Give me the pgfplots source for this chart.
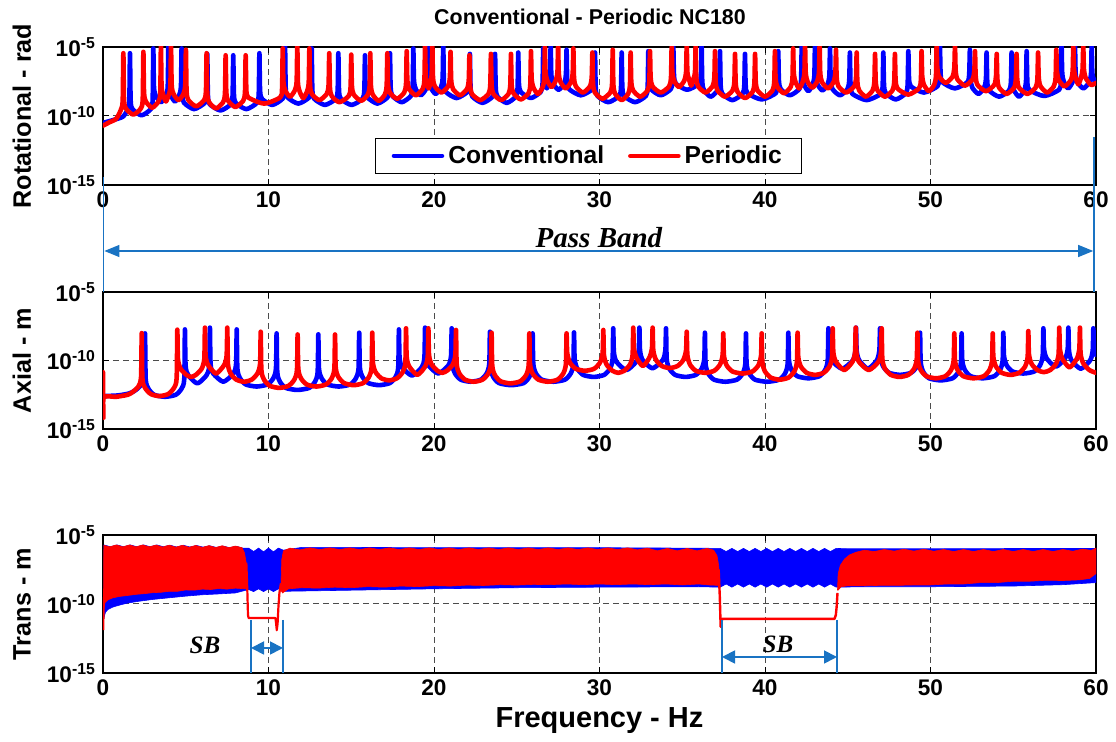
\documentclass[border=0pt]{standalone}
\usepackage{pgfplots}
\pgfplotsset{compat=1.18}
\usepackage{fontspec}
\setmainfont{Liberation Sans}
\newfontfamily\timesf{Liberation Serif}
\usetikzlibrary{arrows.meta}
\definecolor{annot}{RGB}{25,115,195}
\definecolor{cblue}{RGB}{0,0,255}
\definecolor{cred}{RGB}{255,0,0}
\pgfplotsset{
  base/.style={
    scale only axis, width=496.5pt, height=69pt,
    xmin=0, xmax=60, ymin=-15, ymax=-5,
    xtick={0,10,...,60}, ytick={-15,-10,-5},
    yticklabels={10\textsuperscript{-15},10\textsuperscript{-10},10\textsuperscript{-5}},
    grid=major,
    major grid style={dash pattern=on 3pt off 2pt, black!70, line width=0.5pt},
    tick align=inside, major tick length=3pt,
    axis line style={line width=0.6pt},
    tick style={black, line width=0.5pt},
    ticklabel style={font=\fontsize{11.3}{13}\selectfont\bfseries},
    /pgf/number format/assume math mode=true,
    every axis y label/.style={at={(axis description cs:-0.0816,0.5)}, rotate=90, anchor=center, font=\fontsize{12.6}{14}\selectfont\bfseries},
    every axis x label/.style={at={(axis description cs:0.5,0)}, yshift=-24pt, anchor=center, font=\fontsize{14.5}{16}\selectfont\bfseries},
  },
  cv/.style={cblue, line width=2.3pt, line join=round, line cap=round, smooth, tension=0.4},
  pd/.style={cred, line width=2.3pt, line join=round, line cap=round, smooth, tension=0.4},
}
\begin{document}
\begin{tikzpicture}
\path[use as bounding box] (0pt,0pt) rectangle (558pt,-371pt);
% ---------------- Rotational ----------------
\begin{axis}[base, at={(51.5pt,-92.5pt)}, anchor=south west,
  ylabel={Rotational - rad},
  legend style={at={(axis description cs:0.274,0.341)}, anchor=north west, draw=black, line width=0.6pt, fill=white,
    font=\fontsize{12.3}{14}\selectfont\bfseries, legend columns=2, inner xsep=8pt, inner ysep=1.5pt,
    /tikz/every even column/.append style={column sep=10pt}},
  legend image code/.code={\draw[#1, sharp plot] (0pt,0pt) -- (24pt,0pt);}]
\addplot[cv] coordinates {
(0,-10.5) (0.6,-10.3) (1.2,-10.05) (1.48,-9.55) (1.59,-8.9) (1.63,-5.45) (1.67,-8.85) (1.78,-9.5) (2.33,-9.95)
(2.89,-9.5) (3.00,-8.85) (3.04,-5.1) (3.08,-7.9) (3.19,-8.55) (3.50,-9.0)
(3.80,-8.55) (3.91,-7.9) (3.95,-4.9) (3.99,-7.85) (4.10,-8.5) (4.35,-8.95)
(4.60,-8.5) (4.71,-7.85) (4.75,-5.1) (4.79,-8.4) (4.90,-9.05) (5.50,-9.5)
(6.15,-9.05) (6.26,-8.4) (6.30,-5.5) (6.34,-8.5) (6.45,-9.15) (7.10,-9.6)
(7.72,-9.15) (7.83,-8.5) (7.87,-5.6) (7.91,-8.4) (8.02,-9.05) (8.66,-9.5)
(9.30,-9.05) (9.41,-8.4) (9.45,-5.45) (9.49,-8.1) (9.60,-8.75) (10.22,-9.2)
(10.85,-8.75) (10.96,-8.1) (11.00,-4.9) (11.04,-8.0) (11.15,-8.65) (11.80,-9.1)
(12.46,-8.65) (12.57,-8.0) (12.61,-5.1) (12.65,-8.1) (12.76,-8.75) (13.41,-9.2)
(14.07,-8.75) (14.18,-8.1) (14.22,-5.45) (14.26,-8.1) (14.37,-8.75) (15.02,-9.2)
(15.68,-8.75) (15.79,-8.1) (15.83,-5.6) (15.87,-8.0) (15.98,-8.65) (16.58,-9.1)
(17.19,-8.65) (17.30,-8.0) (17.34,-5.45) (17.38,-7.9) (17.49,-8.55) (18.05,-9.0)
(18.60,-8.55) (18.71,-7.9) (18.75,-5.1) (18.79,-7.4) (18.90,-8.05) (19.20,-8.5)
(19.51,-8.05) (19.62,-7.4) (19.66,-4.9) (19.70,-7.3) (19.81,-7.95) (20.10,-8.4)
(20.41,-7.95) (20.52,-7.3) (20.56,-4.9) (20.60,-7.6) (20.71,-8.25) (21.36,-8.7)
(22.02,-8.25) (22.13,-7.6) (22.17,-5.5) (22.21,-7.95) (22.32,-8.6) (22.93,-9.05)
(23.54,-8.6) (23.65,-7.95) (23.69,-5.5) (23.73,-7.95) (23.84,-8.6) (24.39,-9.05)
(24.94,-8.6) (25.05,-7.95) (25.09,-5.4) (25.13,-7.6) (25.24,-8.25) (25.85,-8.7)
(26.45,-8.25) (26.56,-7.6) (26.60,-5.1) (26.64,-6.9) (26.72,-7.5) (26.82,-8.0)
(26.93,-7.5) (27.01,-6.9) (27.05,-4.9) (27.09,-7.0) (27.20,-7.65) (27.53,-8.1)
(27.86,-7.65) (27.97,-7.0) (28.01,-5.2) (28.05,-7.4) (28.16,-8.05) (28.87,-8.5)
(29.58,-8.05) (29.69,-7.4) (29.73,-5.4) (29.77,-7.9) (29.88,-8.55) (30.53,-9.0)
(31.19,-8.55) (31.30,-7.9) (31.34,-5.4) (31.38,-7.9) (31.49,-8.55) (32.15,-9.0)
(32.80,-8.55) (32.91,-7.9) (32.95,-5.3) (32.99,-7.4) (33.10,-8.05) (33.70,-8.5)
(34.31,-8.05) (34.42,-7.4) (34.46,-5.0) (34.50,-7.0) (34.61,-7.65) (35.30,-8.1)
(36.02,-7.65) (36.13,-7.0) (36.17,-4.9) (36.21,-7.5) (36.32,-8.15) (36.72,-8.6)
(37.13,-8.15) (37.24,-7.5) (37.28,-5.3) (37.32,-7.75) (37.43,-8.4) (38.03,-8.85)
(38.64,-8.4) (38.75,-7.75) (38.79,-5.5) (38.83,-7.7) (38.94,-8.35) (39.80,-8.8)
(40.65,-8.35) (40.76,-7.7) (40.80,-5.3) (40.84,-7.4) (40.95,-8.05) (41.50,-8.5)
(42.07,-8.05) (42.18,-7.4) (42.22,-4.9) (42.26,-7.1) (42.37,-7.75) (42.62,-8.2)
(42.87,-7.75) (42.98,-7.1) (43.02,-4.9) (43.06,-7.05) (43.17,-7.7) (43.47,-8.15)
(43.78,-7.7) (43.89,-7.05) (43.93,-5.1) (43.97,-7.4) (44.08,-8.05) (44.53,-8.5)
(44.98,-8.05) (45.09,-7.4) (45.13,-5.4) (45.17,-7.75) (45.28,-8.4) (46.14,-8.85)
(47.00,-8.4) (47.11,-7.75) (47.15,-5.4) (47.19,-7.7) (47.30,-8.35) (47.90,-8.8)
(48.51,-8.35) (48.62,-7.7) (48.66,-5.3) (48.70,-7.2) (48.81,-7.85) (49.60,-8.3)
(50.42,-7.85) (50.53,-7.2) (50.57,-4.9) (50.61,-6.9) (50.72,-7.55) (51.47,-8.0)
(52.23,-7.55) (52.34,-6.9) (52.38,-5.2) (52.42,-7.3) (52.53,-7.95) (52.90,-8.4)
(53.24,-7.95) (53.35,-7.3) (53.39,-5.4) (53.43,-7.5) (53.54,-8.15) (54.15,-8.6)
(54.75,-8.15) (54.86,-7.5) (54.90,-5.4) (54.94,-7.5) (55.05,-8.15) (55.35,-8.6)
(55.66,-8.15) (55.77,-7.5) (55.81,-5.3) (55.85,-7.45) (55.96,-8.1) (56.87,-8.55)
(57.77,-8.1) (57.88,-7.45) (57.92,-4.9) (57.96,-6.9) (58.07,-7.55) (58.32,-8.0)
(58.58,-7.55) (58.69,-6.9) (58.73,-4.9) (58.77,-6.9) (58.88,-7.55) (59.24,-8.0)
(59.59,-7.55) (59.70,-6.9) (59.74,-4.9) (59.78,-6.9) (59.89,-7.4) (60,-7.6)
};
\addlegendentry{Conventional}
\addplot[pd] coordinates {
(0,-10.7) (0.4,-10.45) (0.8,-10.2) (1.08,-9.55) (1.19,-8.9) (1.23,-5.45) (1.27,-8.8) (1.38,-9.45) (1.83,-9.9)
(2.29,-9.45) (2.40,-8.8) (2.44,-5.35) (2.48,-8.3) (2.59,-8.95) (2.97,-9.4)
(3.35,-8.95) (3.46,-8.3) (3.50,-4.9) (3.54,-7.85) (3.65,-8.5) (3.80,-8.95)
(3.96,-8.5) (4.07,-7.85) (4.11,-4.9) (4.15,-7.75) (4.26,-8.4) (4.56,-8.85)
(4.86,-8.4) (4.97,-7.75) (5.01,-5.2) (5.05,-8.2) (5.16,-8.85) (5.63,-9.3)
(6.11,-8.85) (6.22,-8.2) (6.26,-5.45) (6.30,-8.35) (6.41,-9.0) (6.83,-9.45)
(7.26,-9.0) (7.37,-8.35) (7.41,-5.6) (7.45,-8.25) (7.56,-8.9) (8.00,-9.35)
(8.47,-8.9) (8.58,-8.25) (8.62,-5.6) (8.66,-8.0) (8.77,-8.65) (9.74,-9.1)
(10.71,-8.65) (10.82,-8.0) (10.86,-5.1) (10.90,-7.5) (11.01,-8.15) (11.30,-8.6)
(11.59,-8.15) (11.70,-7.5) (11.74,-4.9) (11.78,-7.6) (11.89,-8.25) (12.10,-8.7)
(12.32,-8.25) (12.43,-7.6) (12.47,-5.1) (12.51,-7.75) (12.62,-8.4) (13.07,-8.85)
(13.52,-8.4) (13.63,-7.75) (13.67,-5.45) (13.71,-7.9) (13.82,-8.55) (14.28,-9.0)
(14.85,-8.55) (14.96,-7.9) (15.00,-5.55) (15.04,-7.8) (15.15,-8.45) (15.60,-8.9)
(16.00,-8.45) (16.11,-7.8) (16.15,-5.45) (16.19,-7.8) (16.30,-8.45) (16.66,-8.9)
(17.03,-8.45) (17.14,-7.8) (17.18,-5.45) (17.22,-7.65) (17.33,-8.3) (17.77,-8.75)
(18.20,-8.3) (18.31,-7.65) (18.35,-5.3) (18.39,-7.4) (18.50,-8.05) (18.90,-8.5)
(19.31,-8.05) (19.42,-7.4) (19.46,-4.9) (19.50,-7.1) (19.58,-7.6) (19.68,-8.0)
(19.78,-7.6) (19.86,-7.0) (19.90,-4.9) (19.94,-7.2) (20.05,-7.85) (20.45,-8.3)
(20.85,-7.85) (20.96,-7.2) (21.00,-5.35) (21.04,-7.4) (21.15,-8.05) (21.57,-8.5)
(21.99,-8.05) (22.10,-7.4) (22.14,-5.6) (22.18,-7.75) (22.29,-8.4) (22.79,-8.85)
(23.29,-8.4) (23.40,-7.75) (23.44,-5.5) (23.48,-7.75) (23.59,-8.4) (24.05,-8.85)
(24.50,-8.4) (24.61,-7.75) (24.65,-5.5) (24.69,-7.7) (24.80,-8.35) (25.25,-8.8)
(25.71,-8.35) (25.82,-7.7) (25.86,-5.3) (25.90,-7.3) (26.01,-7.95) (26.28,-8.4)
(26.55,-7.95) (26.66,-7.3) (26.70,-5.0) (26.74,-6.8) (26.85,-7.45) (27.10,-7.9)
(27.35,-7.45) (27.46,-6.8) (27.50,-4.9) (27.54,-6.9) (27.65,-7.55) (27.96,-8.0)
(28.27,-7.55) (28.38,-6.9) (28.42,-5.1) (28.46,-7.2) (28.57,-7.85) (29.00,-8.3)
(29.42,-7.85) (29.53,-7.2) (29.57,-5.4) (29.61,-7.65) (29.72,-8.3) (30.18,-8.75)
(30.65,-8.3) (30.76,-7.65) (30.80,-5.2) (30.84,-7.75) (30.95,-8.4) (31.34,-8.85)
(31.73,-8.4) (31.84,-7.75) (31.88,-5.4) (31.92,-7.5) (32.03,-8.15) (32.46,-8.6)
(32.90,-8.15) (33.01,-7.5) (33.05,-5.3) (33.09,-7.2) (33.20,-7.85) (33.70,-8.3)
(34.21,-7.85) (34.32,-7.2) (34.36,-5.0) (34.40,-6.8) (34.51,-7.45) (34.80,-7.9)
(35.12,-7.45) (35.23,-6.8) (35.27,-4.9) (35.31,-6.8) (35.40,-7.3) (35.54,-7.8)
(35.68,-7.3) (35.77,-6.8) (35.81,-4.9) (35.85,-7.2) (35.96,-7.85) (36.40,-8.3)
(36.83,-7.85) (36.94,-7.2) (36.98,-5.3) (37.02,-7.5) (37.13,-8.15) (37.58,-8.6)
(38.04,-8.15) (38.15,-7.5) (38.19,-5.5) (38.23,-7.6) (38.34,-8.25) (38.80,-8.7)
(39.25,-8.25) (39.36,-7.6) (39.40,-5.5) (39.44,-7.5) (39.55,-8.15) (40.00,-8.6)
(40.45,-8.15) (40.56,-7.5) (40.60,-5.3) (40.64,-7.25) (40.75,-7.9) (41.15,-8.35)
(41.55,-7.9) (41.66,-7.25) (41.70,-5.1) (41.74,-6.9) (41.85,-7.55) (42.06,-8.0)
(42.27,-7.55) (42.38,-6.9) (42.42,-4.9) (42.46,-6.85) (42.57,-7.5) (42.86,-7.95)
(43.15,-7.5) (43.26,-6.85) (43.30,-4.9) (43.34,-6.9) (43.45,-7.55) (43.80,-8.0)
(44.14,-7.55) (44.25,-6.9) (44.29,-5.2) (44.33,-7.2) (44.44,-7.85) (44.90,-8.3)
(45.39,-7.85) (45.50,-7.2) (45.54,-5.4) (45.58,-7.5) (45.69,-8.15) (46.10,-8.6)
(46.50,-8.15) (46.61,-7.5) (46.65,-5.5) (46.69,-7.5) (46.80,-8.15) (47.25,-8.6)
(47.70,-8.15) (47.81,-7.5) (47.85,-5.5) (47.89,-7.35) (48.00,-8.0) (48.65,-8.45)
(49.31,-8.0) (49.42,-7.35) (49.46,-5.3) (49.50,-7.1) (49.61,-7.75) (49.90,-8.2)
(50.22,-7.75) (50.33,-7.1) (50.37,-4.9) (50.41,-6.5) (50.52,-7.15) (50.92,-7.6)
(51.33,-7.15) (51.44,-6.5) (51.48,-4.9) (51.52,-6.7) (51.63,-7.35) (52.08,-7.8)
(52.54,-7.35) (52.65,-6.7) (52.69,-5.3) (52.73,-7.1) (52.84,-7.75) (53.35,-8.2)
(53.85,-7.75) (53.96,-7.1) (54.00,-5.5) (54.04,-7.3) (54.15,-7.95) (54.60,-8.4)
(55.05,-7.95) (55.16,-7.3) (55.20,-5.5) (55.24,-7.3) (55.35,-7.95) (55.85,-8.4)
(56.35,-7.95) (56.46,-7.3) (56.50,-5.4) (56.54,-7.2) (56.65,-7.85) (57.05,-8.3)
(57.45,-7.85) (57.56,-7.2) (57.60,-5.2) (57.64,-6.75) (57.75,-7.4) (58.10,-7.85)
(58.48,-7.4) (58.59,-6.75) (58.63,-4.9) (58.67,-6.6) (58.76,-7.2) (58.93,-7.7)
(59.10,-7.2) (59.19,-6.6) (59.23,-4.9) (59.27,-6.6) (59.38,-7.25) (59.70,-7.75) (60,-7.6)
};
\addlegendentry{Periodic}
\end{axis}
% ---------------- Axial ----------------
\begin{axis}[base, at={(51.5pt,-214.5pt)}, anchor=south west, height=68.5pt,
  ylabel={Axial - m}]
\addplot[cv] coordinates {
(0.00,-12.6) (0.9,-12.55) (1.6,-12.4) (1.99,-12.15) (2.34,-11.7) (2.50,-11.0) (2.54,-8.02) (2.58,-11.35) (2.74,-12.05) (3.09,-12.5) (3.75,-12.65)
(4.40,-12.5) (4.75,-12.05) (4.91,-11.35) (4.95,-7.73) (4.99,-10.37) (5.15,-11.07) (5.70,-11.67)
(6.26,-11.07) (6.42,-10.37) (6.46,-7.6) (6.50,-10.25) (6.66,-10.95) (7.27,-11.55)
(7.88,-10.95) (8.04,-10.25) (8.08,-7.73) (8.12,-10.6) (8.28,-11.3) (8.63,-11.75) (9.28,-11.9)
(9.94,-11.75) (10.29,-11.3) (10.45,-10.6) (10.49,-8.02) (10.53,-10.85) (10.69,-11.55) (11.04,-12.0) (11.75,-12.15)
(12.46,-12.0) (12.81,-11.55) (12.97,-10.85) (13.01,-8.09) (13.05,-10.6) (13.21,-11.3) (13.56,-11.75) (14.25,-11.9)
(14.93,-11.75) (15.28,-11.3) (15.44,-10.6) (15.48,-7.97) (15.52,-10.5) (15.68,-11.2) (16.03,-11.65) (16.68,-11.8)
(17.33,-11.65) (17.68,-11.2) (17.84,-10.5) (17.88,-7.73) (17.92,-9.8) (18.08,-10.5) (18.67,-11.1)
(19.26,-10.5) (19.42,-9.8) (19.46,-7.6) (19.50,-9.65) (19.66,-10.35) (20.26,-10.95)
(20.87,-10.35) (21.03,-9.65) (21.07,-7.65) (21.11,-10.25) (21.27,-10.95) (21.62,-11.4) (22.22,-11.55)
(22.83,-11.4) (23.18,-10.95) (23.34,-10.25) (23.38,-7.9) (23.42,-10.5) (23.58,-11.2) (23.93,-11.65) (24.67,-11.8)
(25.41,-11.65) (25.76,-11.2) (25.92,-10.5) (25.96,-8.02) (26.00,-10.25) (26.16,-10.95) (26.51,-11.4) (27.21,-11.55)
(27.91,-11.4) (28.26,-10.95) (28.42,-10.25) (28.46,-7.95) (28.50,-9.9) (28.66,-10.6) (29.01,-11.05) (29.65,-11.2)
(30.28,-11.05) (30.63,-10.6) (30.79,-9.9) (30.83,-7.65) (30.87,-9.4) (31.03,-10.1) (31.62,-10.7)
(32.21,-10.1) (32.37,-9.4) (32.41,-7.6) (32.45,-9.27) (32.61,-9.97) (33.20,-10.57)
(33.82,-9.97) (33.98,-9.27) (34.02,-7.65) (34.06,-9.9) (34.22,-10.6) (34.57,-11.05) (35.20,-11.2)
(35.82,-11.05) (36.17,-10.6) (36.33,-9.9) (36.37,-7.97) (36.41,-10.25) (36.57,-10.95) (36.92,-11.4) (37.60,-11.55)
(38.30,-11.4) (38.65,-10.95) (38.81,-10.25) (38.85,-8.02) (38.89,-10.25) (39.05,-10.95) (39.40,-11.4) (40.13,-11.55)
(40.86,-11.4) (41.21,-10.95) (41.37,-10.25) (41.41,-7.97) (41.45,-10.0) (41.61,-10.7) (41.96,-11.15) (42.62,-11.3)
(43.28,-11.15) (43.63,-10.7) (43.79,-10.0) (43.83,-7.65) (43.87,-9.3) (44.03,-10.0) (44.66,-10.6)
(45.30,-10.0) (45.46,-9.3) (45.50,-7.6) (45.54,-9.3) (45.70,-10.0) (46.22,-10.6)
(46.75,-10.0) (46.91,-9.3) (46.95,-7.65) (46.99,-9.75) (47.15,-10.45) (47.50,-10.9) (48.16,-11.05)
(48.82,-10.9) (49.17,-10.45) (49.33,-9.75) (49.37,-7.97) (49.41,-10.15) (49.57,-10.85) (49.92,-11.3) (50.62,-11.45)
(51.33,-11.3) (51.68,-10.85) (51.84,-10.15) (51.88,-8.02) (51.92,-10.0) (52.08,-10.7) (52.43,-11.15) (53.14,-11.3)
(53.85,-11.15) (54.20,-10.7) (54.36,-10.0) (54.40,-7.97) (54.44,-9.65) (54.60,-10.35) (54.95,-10.8) (55.61,-10.95)
(56.27,-10.8) (56.62,-10.35) (56.78,-9.65) (56.82,-7.65) (56.86,-9.15) (57.02,-9.85) (57.57,-10.45)
(58.13,-9.85) (58.29,-9.15) (58.33,-7.6) (58.37,-9.3) (58.53,-10.0) (59.08,-10.6)
(59.64,-10.0) (59.80,-9.3) (59.84,-7.65) (59.88,-9.2) (60.00,-9.6)
};
\addplot[pd] coordinates {
(0.00,-10.85) (0.02,-14.2) (0.05,-12.7) (0.8,-12.65) (1.5,-12.5) (1.79,-12.3) (2.14,-11.9) (2.30,-11.2)
(2.34,-8.0) (2.38,-11.3) (2.54,-12.0) (2.89,-12.45) (3.40,-12.6)
(3.94,-12.45) (4.29,-12.0) (4.45,-11.3) (4.49,-7.75) (4.53,-9.9) (4.69,-10.6) (5.04,-11.05) (5.32,-11.2)
(5.61,-11.05) (5.96,-10.6) (6.12,-9.9) (6.16,-7.6) (6.20,-9.65) (6.36,-10.35) (6.83,-10.95)
(7.31,-10.35) (7.47,-9.65) (7.51,-7.6) (7.55,-10.25) (7.71,-10.95) (8.06,-11.4) (8.52,-11.55)
(8.98,-11.4) (9.33,-10.95) (9.49,-10.25) (9.53,-7.9) (9.57,-10.7) (9.73,-11.4) (10.08,-11.85) (10.65,-12.0)
(11.21,-11.85) (11.56,-11.4) (11.72,-10.7) (11.76,-8.1) (11.80,-10.6) (11.96,-11.3) (12.31,-11.75) (12.89,-11.9)
(13.47,-11.75) (13.82,-11.3) (13.98,-10.6) (14.02,-8.1) (14.06,-10.5) (14.22,-11.2) (14.57,-11.65) (15.15,-11.8)
(15.72,-11.65) (16.07,-11.2) (16.23,-10.5) (16.27,-7.97) (16.31,-10.15) (16.47,-10.85) (16.82,-11.3) (17.29,-11.45)
(17.76,-11.3) (18.11,-10.85) (18.27,-10.15) (18.31,-7.65) (18.35,-9.75) (18.51,-10.45) (18.99,-11.05)
(19.46,-10.45) (19.62,-9.75) (19.66,-7.65) (19.70,-9.6) (19.86,-10.3) (20.21,-10.75) (20.50,-10.9)
(20.78,-10.75) (21.13,-10.3) (21.29,-9.6) (21.33,-7.77) (21.37,-10.25) (21.53,-10.95) (21.88,-11.4) (22.40,-11.55)
(22.93,-11.4) (23.28,-10.95) (23.44,-10.25) (23.48,-7.97) (23.52,-10.37) (23.68,-11.07) (24.03,-11.52) (24.62,-11.67)
(25.21,-11.52) (25.56,-11.07) (25.72,-10.37) (25.76,-8.02) (25.80,-10.25) (25.96,-10.95) (26.31,-11.4) (26.88,-11.55)
(27.46,-11.4) (27.81,-10.95) (27.97,-10.25) (28.01,-8.02) (28.05,-9.45) (28.21,-10.15) (28.56,-10.6) (29.12,-10.75)
(29.68,-10.6) (30.03,-10.15) (30.19,-9.45) (30.23,-7.77) (30.27,-9.6) (30.43,-10.3) (30.78,-10.75) (31.13,-10.9)
(31.49,-10.75) (31.84,-10.3) (32.00,-9.6) (32.04,-7.6) (32.08,-9.1) (32.24,-9.8) (32.62,-10.4)
(33.01,-9.8) (33.17,-9.1) (33.21,-7.6) (33.25,-9.25) (33.41,-9.95) (33.76,-10.4) (34.24,-10.55)
(34.72,-10.4) (35.07,-9.95) (35.23,-9.25) (35.27,-7.9) (35.31,-9.6) (35.47,-10.3) (35.82,-10.75) (36.38,-10.9)
(36.93,-10.75) (37.28,-10.3) (37.44,-9.6) (37.48,-8.02) (37.52,-9.65) (37.68,-10.35) (38.03,-10.8) (38.64,-10.95)
(39.25,-10.8) (39.60,-10.35) (39.76,-9.65) (39.80,-8.02) (39.84,-10.1) (40.00,-10.8) (40.35,-11.25) (40.89,-11.4)
(41.42,-11.25) (41.77,-10.8) (41.93,-10.1) (41.97,-7.97) (42.01,-9.75) (42.17,-10.45) (42.52,-10.9) (43.03,-11.05)
(43.54,-10.9) (43.89,-10.45) (44.05,-9.75) (44.09,-7.65) (44.13,-9.4) (44.29,-10.1) (44.79,-10.7)
(45.28,-10.1) (45.44,-9.4) (45.48,-7.6) (45.52,-9.4) (45.68,-10.1) (46.27,-10.7)
(46.85,-10.1) (47.01,-9.4) (47.05,-7.65) (47.09,-9.9) (47.25,-10.6) (47.60,-11.05) (48.13,-11.2)
(48.66,-11.05) (49.01,-10.6) (49.17,-9.9) (49.21,-7.97) (49.25,-10.0) (49.41,-10.7) (49.76,-11.15) (50.33,-11.3)
(50.89,-11.15) (51.24,-10.7) (51.40,-10.0) (51.44,-8.02) (51.48,-10.0) (51.64,-10.7) (51.99,-11.15) (52.60,-11.3)
(53.21,-11.15) (53.56,-10.7) (53.72,-10.0) (53.76,-8.02) (53.80,-9.75) (53.96,-10.45) (54.31,-10.9) (54.84,-11.05)
(55.36,-10.9) (55.71,-10.45) (55.87,-9.75) (55.91,-7.85) (55.95,-9.55) (56.11,-10.25) (56.46,-10.7) (56.85,-10.85)
(57.23,-10.7) (57.58,-10.25) (57.74,-9.55) (57.78,-7.6) (57.82,-9.2) (57.98,-9.9) (58.40,-10.5)
(58.83,-9.9) (58.99,-9.2) (59.03,-7.6) (59.07,-9.5) (59.23,-10.2) (59.60,-10.7) (60,-10.9)
};
\end{axis}
% ---------------- Trans ----------------
\begin{axis}[base, at={(51.5pt,-336.5pt)}, anchor=south west,
  ylabel={Trans - m}, xlabel={Frequency - Hz}]
% conventional band
\addplot[fill=cblue, draw=cblue, line width=0.3pt] coordinates {
(0.05,-5.72) (0.45,-5.85) (0.85,-5.72) (1.25,-5.85) (1.65,-5.72) (2.05,-5.85) (2.45,-5.72) (2.85,-5.85) (3.25,-5.72) (3.65,-5.85)
(4.05,-5.74) (4.45,-5.87) (4.85,-5.74) (5.25,-5.87) (5.65,-5.76) (6.05,-5.88) (6.45,-5.78) (6.85,-5.9) (7.25,-5.8) (7.65,-5.92) (8.05,-5.82) (8.45,-5.95)
(8.8,-5.95) (9.1,-6.2) (9.4,-5.95) (9.7,-6.22) (10.0,-5.95) (10.3,-6.22) (10.6,-5.95) (10.9,-6.1)
(12,-5.9) (15,-5.9) (20,-5.92) (25,-5.92) (30,-5.92) (35,-5.95)
(37.3,-5.97) (37.65,-6.2) (38.0,-5.97) (38.35,-6.2) (38.7,-5.97) (39.05,-6.2) (39.4,-5.97) (39.75,-6.2) (40.1,-5.97) (40.45,-6.2)
(40.8,-5.97) (41.15,-6.2) (41.5,-5.97) (41.85,-6.2) (42.2,-5.97) (42.55,-6.2) (42.9,-5.97) (43.25,-6.2) (43.6,-5.97) (43.95,-6.2) (44.3,-5.97)
(45,-6.0) (50,-6.0) (55,-5.98) (60,-5.98)
(60,-8.45) (58,-8.6) (55,-8.7) (50,-8.75) (46,-8.75) (44.3,-8.78)
(43.95,-8.55) (43.6,-8.78) (43.25,-8.55) (42.9,-8.78) (42.55,-8.55) (42.2,-8.78) (41.85,-8.55) (41.5,-8.78) (41.15,-8.55) (40.8,-8.78)
(40.45,-8.55) (40.1,-8.78) (39.75,-8.55) (39.4,-8.78) (39.05,-8.55) (38.7,-8.78) (38.35,-8.55) (38.0,-8.78) (37.65,-8.55) (37.3,-8.78)
(36,-8.75) (30,-8.78) (25,-8.82) (20,-8.9) (15,-9.0) (11,-9.08)
(10.6,-8.9) (10.3,-9.1) (10.0,-8.9) (9.7,-9.1) (9.4,-8.9) (9.1,-9.1) (8.8,-8.95)
(8.0,-9.2) (7.0,-9.27) (6.0,-9.33) (5.0,-9.43) (4.0,-9.55) (3.0,-9.67) (2.0,-9.83) (1.5,-9.93) (1.0,-10.08) (0.6,-10.22) (0.3,-10.4) (0.15,-10.6) (0.08,-10.9) (0.05,-11.1)
} -- cycle;
% periodic band, part A
\addplot[fill=cred, draw=cred, line width=0.3pt] coordinates {
(0.03,-9.5) (0.05,-5.75) (0.4,-5.86) (0.8,-5.72) (1.2,-5.86) (1.6,-5.72) (2.0,-5.86) (2.4,-5.72) (2.8,-5.86) (3.2,-5.73) (3.6,-5.87)
(4.0,-5.74) (4.4,-5.88) (4.8,-5.75) (5.2,-5.89) (5.6,-5.76) (6.0,-5.9) (6.4,-5.77) (6.8,-5.91) (7.2,-5.78) (7.6,-5.92) (8.0,-5.8) (8.4,-5.92)
(8.55,-6.3) (8.65,-7.0) (8.72,-8.5)
(8.6,-8.9) (8.0,-8.85) (7.5,-8.92) (7.0,-8.88) (6.5,-8.95) (6.0,-8.92) (5.5,-9.0) (5.0,-8.98) (4.5,-9.08) (4.0,-9.08) (3.5,-9.15) (3.0,-9.18)
(2.5,-9.25) (2.0,-9.3) (1.5,-9.38) (1.0,-9.45) (0.6,-9.55) (0.3,-9.7) (0.12,-9.9) (0.06,-10.3)
} -- cycle;
% periodic band, part B
\addplot[fill=cred, draw=cred, line width=0.3pt] coordinates {
(10.75,-9.0) (10.8,-6.8) (10.9,-6.15) (11.3,-5.95) (11.9,-6.08) (12.5,-5.93) (13.1,-6.06) (13.7,-5.93) (14.3,-6.06) (14.9,-5.93) (15.5,-6.06)
(16.1,-5.93) (16.7,-6.06) (17.3,-5.93) (17.9,-6.06) (18.5,-5.93) (19.1,-6.06) (19.7,-5.93) (20.3,-6.06) (20.9,-5.93) (21.5,-6.06)
(22.1,-5.93) (22.7,-6.06) (23.3,-5.93) (23.9,-6.06) (24.5,-5.93) (25.1,-6.06) (25.7,-5.93) (26.3,-6.06) (26.9,-5.93) (27.5,-6.06)
(28.1,-5.93) (28.7,-6.06) (29.3,-5.93) (29.9,-6.06) (30.5,-5.93) (31.1,-6.06) (31.7,-5.93) (32.3,-6.08) (32.9,-5.95) (33.5,-6.15)
(34.1,-5.97) (34.7,-6.15) (35.3,-5.97) (35.9,-6.15) (36.5,-5.97) (36.9,-6.1) (37.1,-6.5) (37.2,-7.2) (37.27,-8.4)
(37.2,-8.65) (36.6,-8.62) (36,-8.55) (35,-8.62) (34,-8.55) (33,-8.6) (32,-8.55) (31,-8.6) (30,-8.55) (29,-8.6) (28,-8.55) (27,-8.6)
(26,-8.58) (25,-8.63) (24,-8.6) (23,-8.66) (22,-8.63) (21,-8.7) (20,-8.67) (19,-8.74) (18,-8.7) (17,-8.78) (16,-8.74) (15,-8.82)
(14,-8.78) (13,-8.85) (12,-8.82) (11.2,-8.9) (10.85,-9.2)
} -- cycle;
% periodic band, part C
\addplot[fill=cred, draw=cred, line width=0.3pt] coordinates {
(44.38,-9.0) (44.42,-7.8) (44.55,-7.2) (44.8,-6.75) (45.1,-6.45) (45.5,-6.25) (46.0,-6.1) (46.6,-6.2) (47.2,-6.05) (47.8,-6.17)
(48.4,-6.03) (49.0,-6.17) (49.6,-6.03) (50.2,-6.18) (50.8,-6.05) (51.4,-6.2) (52.0,-6.05) (52.6,-6.2) (53.2,-6.05) (53.8,-6.2)
(54.4,-6.05) (55.0,-6.2) (55.6,-6.05) (56.2,-6.2) (56.8,-6.05) (57.4,-6.2) (58.0,-6.05) (58.6,-6.18) (59.2,-6.02) (59.7,-6.12) (60,-5.95)
(60,-7.8) (59.6,-8.15) (59,-8.25) (58,-8.3) (57,-8.28) (56,-8.35) (55,-8.35) (54,-8.45) (53,-8.45) (52,-8.55) (51,-8.55) (50,-8.62)
(49,-8.62) (48,-8.65) (47,-8.65) (46,-8.68) (45,-8.68) (44.6,-8.75) (44.42,-9.0)
} -- cycle;
% periodic stop-band responses
\addplot[cred, line width=1pt] coordinates {(0.02,-11.9) (0.05,-9.5)};
\addplot[cred, line width=1.1pt, line join=round] coordinates {
(8.66,-7.0) (8.72,-9.0) (8.76,-10.8) (8.80,-11.02) (10.42,-11.02) (10.46,-11.4) (10.50,-11.9) (10.55,-11.4) (10.60,-10.2) (10.66,-9.2) (10.75,-8.5)
};
\addplot[cred, line width=1.2pt, line join=round] coordinates {
(37.20,-7.5) (37.27,-9.5) (37.32,-11.65) (37.36,-11.3) (37.42,-11.08) (44.20,-11.08) (44.28,-10.8) (44.33,-10.2) (44.38,-9.2)
};
\end{axis}
% ---------------- annotations ----------------
\node[font=\fontsize{10.7}{12}\selectfont\bfseries] at (295pt,-8.5pt) {Conventional - Periodic NC180};
\draw[annot, line width=0.8pt] (51.8pt,-88.5pt) -- (51.8pt,-146pt);
\draw[annot, line width=0.8pt] (547pt,-68.5pt) -- (547pt,-146pt);
\draw[annot, line width=0.6pt, {Triangle[length=7.5pt,width=6pt]}-{Triangle[length=7.5pt,width=6pt]}] (52.2pt,-125.5pt) -- (546.6pt,-125.5pt);
\node[font=\timesf\fontsize{14.5}{16}\selectfont\bfseries\itshape] at (299.5pt,-119pt) {Pass Band};
% SB 1
\draw[annot, line width=0.9pt] (125.5pt,-310pt) -- (125.5pt,-336.5pt);
\draw[annot, line width=0.9pt] (141.5pt,-310pt) -- (141.5pt,-336.5pt);
\draw[annot, line width=0.9pt, {Triangle[length=6.5pt,width=6.5pt]}-{Triangle[length=6.5pt,width=6.5pt]}] (125.5pt,-324pt) -- (141.5pt,-324pt);
\node[font=\timesf\fontsize{12.5}{14}\selectfont\bfseries\itshape] at (102.5pt,-322.5pt) {SB};
% SB 2
\draw[annot, line width=0.9pt] (361pt,-310pt) -- (361pt,-336.5pt);
\draw[annot, line width=0.9pt] (418.5pt,-310pt) -- (418.5pt,-336.5pt);
\draw[annot, line width=0.9pt, {Triangle[length=6.5pt,width=6.5pt]}-{Triangle[length=6.5pt,width=6.5pt]}] (361pt,-328.5pt) -- (418.5pt,-328.5pt);
\node[font=\timesf\fontsize{12.5}{14}\selectfont\bfseries\itshape] at (389pt,-322pt) {SB};
\end{tikzpicture}
\end{document}
